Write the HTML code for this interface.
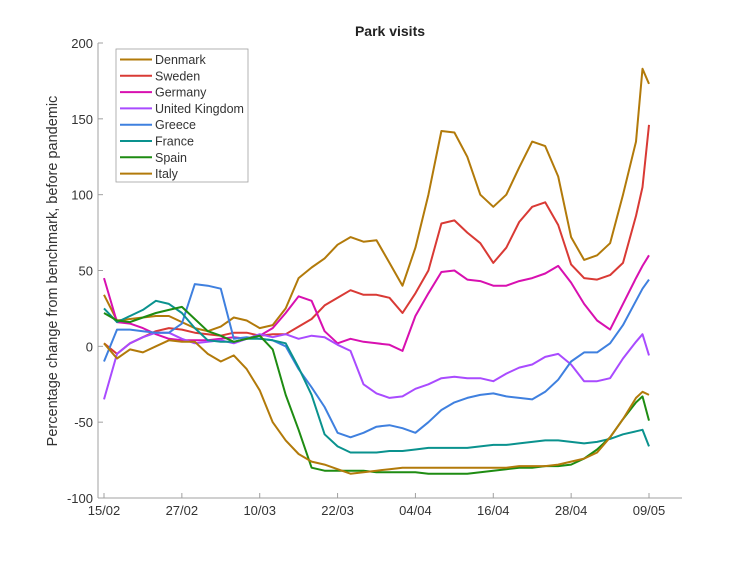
<!DOCTYPE html>
<html><head><meta charset="utf-8"><style>
body{margin:0;background:#fff;}
svg text{font-family:"Liberation Sans",sans-serif;}
</style></head><body>
<svg id="chart" width="754" height="561" viewBox="0 0 754 561" xmlns="http://www.w3.org/2000/svg">
<rect width="754" height="561" fill="#fff"/>
<text x="390" y="36" text-anchor="middle" font-size="14" font-weight="bold" fill="#222">Park visits</text>
<text transform="translate(57,271) rotate(-90)" text-anchor="middle" font-size="14.5" fill="#333">Percentage change from benchmark, before pandemic</text>
<g id="axes"></g>
<g id="series"></g>
<g id="legend"></g>
</svg>
<script>
const days = [0,2,4,6,8,10,12,14,16,18,20,22,24,26,28,30,32,34,36,38,40,42,44,46,48,50,52,54,56,58,60,62,64,66,68,70,72,74,76,78,80,82,83,84];
const denmark = [34,17,18,19,20,20,16,12,10,13,19,17,12,14,25,45,52,58,67,72,69,70,55,40,65,100,142,141,125,100,92,100,118,135,132,112,72,57,60,68,100,135,183,173];
const sweden = [2,-5,2,6,10,12,11,9,8,7,9,9,7,8,8,13,18,27,32,37,34,34,32,22,35,50,81,83,75,68,55,65,82,92,95,80,54,45,44,47,55,86,105,146];
const germany = [45,16,15,12,8,5,4,4,4,5,6,5,7,12,22,33,30,10,2,5,3,2,1,-3,20,35,49,50,44,43,40,40,43,45,48,53,42,28,17,11,28,45,53,60];
const uk = [-35,-5,2,6,9,9,5,2,3,4,2,5,8,6,8,5,7,6,1,-3,-25,-31,-34,-33,-28,-25,-21,-20,-21,-21,-23,-18,-14,-12,-7,-5,-12,-23,-23,-21,-8,3,8,-6];
const greece = [-10,11,11,10,9,9,15,41,40,38,5,6,5,4,0,-15,-27,-40,-57,-60,-57,-53,-52,-54,-57,-50,-42,-37,-34,-32,-31,-33,-34,-35,-30,-22,-10,-4,-4,2,14,30,38,44];
const france = [25,16,20,24,30,28,22,12,4,3,3,5,5,4,2,-14,-32,-58,-66,-70,-70,-70,-69,-69,-68,-67,-67,-67,-67,-66,-65,-65,-64,-63,-62,-62,-63,-64,-63,-61,-58,-56,-55,-66];
const spain = [22,17,16,19,22,24,26,18,10,7,3,5,7,-2,-32,-55,-80,-82,-82,-82,-82,-83,-83,-83,-83,-84,-84,-84,-84,-83,-82,-81,-80,-80,-79,-79,-78,-74,-68,-60,-48,-37,-33,-49];
const italy = [2,-8,-2,-4,0,4,3,3,-5,-10,-6,-15,-29,-50,-62,-71,-76,-78,-81,-84,-83,-82,-81,-80,-80,-80,-80,-80,-80,-80,-80,-80,-79,-79,-79,-78,-76,-74,-70,-60,-48,-34,-30,-32];
const seriesNames = ["Denmark","Sweden","Germany","United Kingdom","Greece","France","Spain","Italy"];
const seriesColors = ["#b27a0a","#d93a35","#d810b0","#a94bff","#3f80df","#0a928e","#1e8c12","#b27a0a"];
const yTicks = [-100,-50,0,50,100,150,200];
const xTickDays = [0,12,24,36,48,60,72,84];
const xTickLabels = ["15/02","27/02","10/03","22/03","04/04","16/04","28/04","09/05"];

const NS="http://www.w3.org/2000/svg";
const L=98,R=682,T=43,B=498;
const x0=104,x1=649;
function xs(d){return x0+(x1-x0)*d/84;}
function ys(v){return B-(v+100)/300*(B-T);}
function mk(tag,attrs,parent){const e=document.createElementNS(NS,tag);for(const k in attrs)e.setAttribute(k,attrs[k]);parent.appendChild(e);return e;}
const axes=document.getElementById('axes');
const ax1=mk('line',{x1:L,x2:L,y1:T,y2:B,stroke:'#a0a0a0','stroke-width':1},axes);


const ax2=mk('line',{x1:L,x2:R,y1:B,y2:B,stroke:'#a0a0a0','stroke-width':1},axes);


yTicks.forEach(v=>{
  const y=ys(v);
  const t=mk('line',{x1:L,x2:L+5,y1:y,y2:y,stroke:'#a0a0a0'},axes);
  
  
  const tx=mk('text',{x:L-5,y:y+5,'text-anchor':'end','font-size':13,fill:'#333'},axes);
  tx.textContent=v;
  
  
});
xTickDays.forEach((d,i)=>{
  const x=xs(d);
  const t=mk('line',{x1:x,x2:x,y1:B,y2:B-5,stroke:'#a0a0a0'},axes);
  
  
  const tx=mk('text',{x:x,y:B+17,'text-anchor':'middle','font-size':13,fill:'#333'},axes);
  tx.textContent=xTickLabels[i];
  
  
});
const all=[denmark,sweden,germany,uk,greece,france,spain,italy];
const sg=document.getElementById('series');
all.forEach((arr,i)=>{
  const pts=arr.map((v,j)=>xs(days[j]).toFixed(1)+','+ys(v).toFixed(1)).join(' ');
  const p=mk('polyline',{points:pts,fill:'none',stroke:seriesColors[i],'stroke-width':2,'stroke-linejoin':'round'},sg);
  
  
});
const lg=document.getElementById('legend');
const box=mk('rect',{x:116,y:49,width:132,height:133,fill:'#fff',stroke:'#a0a0a0','stroke-width':0.8},lg);


seriesNames.forEach((n,i)=>{
  const y=59.5+i*16.3;
  const g=mk('g',{},lg);
  
  
  mk('line',{x1:120,x2:152,y1:y,y2:y,stroke:seriesColors[i],'stroke-width':2},g);
  const t=mk('text',{x:155,y:y+4.5,'font-size':12.5,fill:'#333'},g);
  t.textContent=n;
});
</script>
</body></html>
